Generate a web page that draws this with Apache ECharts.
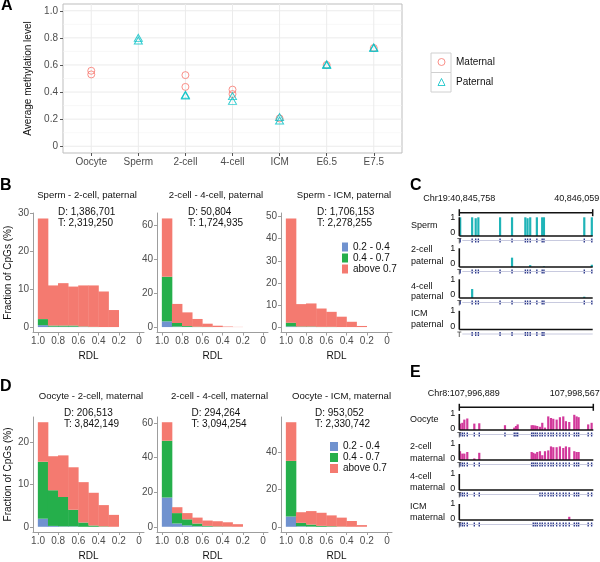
<!DOCTYPE html>
<html><head><meta charset="utf-8">
<script src="https://cdn.jsdelivr.net/npm/echarts@6/dist/echarts.min.js"></script>
<style>html,body{margin:0;padding:0;background:#fff}#c{width:600px;height:562px}</style>
</head><body><div id="c"></div>
<script>
// ================= DATA =================
// Panel A
const stages = ['Oocyte','Sperm','2-cell','4-cell','ICM','E6.5','E7.5'];
const maternalLevels = [[0.557,0.53],[],[0.525,0.438],[0.418,0.385],[0.205],[0.600],[0.725]];
const paternalLevels = [[],[0.80,0.78],[0.38,0.375],[0.37,0.335],[0.215,0.19],[0.600,0.605],[0.73,0.725]];
const methylTicks = [0,0.2,0.4,0.6,0.8,1.0];

// Panels B / D (RDL histograms, 8 bins from 1.0 down to 0.2)
const rdlBinEdges = [1.0,0.9,0.8,0.7,0.6,0.5,0.4,0.3,0.2];
const rdlTicks = [1.0,0.8,0.6,0.4,0.2,0];
const groupNames = ['0.2 - 0.4','0.4 - 0.7','above 0.7'];

const spermTwoCellBlue  = [0.5, 0.1, 0.1, 0.1, 0.05, 0, 0, 0];
const spermTwoCellGreen = [1.6, 0.3, 0.3, 0.3, 0.1, 0.05, 0, 0];
const spermTwoCellAbove = [26.6, 10.6, 11.2, 10.3, 10.85, 10.95, 9.4, 4.5];
const twoFourPatBlue  = [3.4, 0.3, 0.1, 0, 0, 0, 0, 0];
const twoFourPatGreen = [26.4, 2.1, 0.5, 0.2, 0.1, 0, 0, 0];
const twoFourPatAbove = [34.5, 11.3, 8.1, 4.6, 1.9, 0.8, 0.3, 0.1];
const spermIcmBlue  = [0.3, 0.05, 0.05, 0, 0, 0, 0, 0];
const spermIcmGreen = [1.7, 0.2, 0.2, 0.1, 0.1, 0, 0, 0];
const spermIcmAbove = [47.2, 10.15, 10.45, 8.3, 6.8, 4.7, 2.4, 0.5];
const oocyteTwoCellBlue  = [1.9, 0.2, 0.1, 0.1, 0, 0, 0, 0];
const oocyteTwoCellGreen = [13.4, 8.4, 6.9, 3.9, 1.0, 0.3, 0.1, 0];
const oocyteTwoCellAbove = [9.3, 8.0, 9.8, 10.0, 9.5, 7.7, 5.0, 2.8];
const twoFourMatBlue  = [16.9, 1.9, 0.8, 0.3, 0.1, 0, 0, 0];
const twoFourMatGreen = [32.8, 6.0, 3.5, 1.6, 0.4, 0.2, 0.1, 0];
const twoFourMatAbove = [10.7, 3.4, 3.6, 3.4, 3.1, 3.0, 2.5, 1.5];
const oocyteIcmBlue  = [5.5, 0.3, 0.1, 0, 0, 0, 0, 0];
const oocyteIcmGreen = [29.8, 1.8, 1.1, 0.5, 0.3, 0.1, 0, 0];
const oocyteIcmAbove = [20.7, 5.7, 7.2, 7.0, 5.8, 4.8, 3.1, 0.9];

const histTitles = ['Sperm - 2-cell, paternal','2-cell - 4-cell, paternal','Sperm - ICM, paternal',
                    'Oocyte - 2-cell, maternal','2-cell - 4-cell, maternal','Oocyte - ICM, maternal'];
const histDiff  = ['D: 1,386,701','D: 50,804','D: 1,706,153','D: 206,513','D: 294,264','D: 953,052'];
const histTotal = ['T: 2,319,250','T: 1,724,935','T: 2,278,255','T: 3,842,149','T: 3,094,254','T: 2,330,742'];

// Panel C (Chr19 region), CpG offsets in bp from region start
const regionC = ['Chr19', 40845758, 40846059];
const cpgOffsetsC = [2, 29, 37, 43, 92, 119, 149, 154, 160, 175, 187, 191, 282, 299];
const spermC      = [1, 1, 0.95, 1, 1, 1, 1, 0.95, 1, 1, 1, 1, 1, 1];
const twoCellPatC = [0, 0, 0, 0, 0, 0.5, 0, 0, 0.1, 0, 0, 0.04, 0, 0.12];
const fourCellPatC= [0, 0.48, 0, 0, 0, 0, 0, 0, 0, 0, 0, 0, 0.07, 0];
const icmPatC     = [null, 0, 0, 0, 0, 0, 0, 0, 0, 0, 0, 0, null, null];
const trackNamesC = [['Sperm'],['2-cell','paternal'],['4-cell','paternal'],['ICM','paternal']];

// Panel E (Chr8 region)
const regionE = ['Chr8', 107996889, 107998567];
const cpgOffsetsE = [9, 38, 63, 100, 188, 250, 572, 688, 710, 731, 906, 926, 951, 976, 1010, 1039, 1073,
                     1114, 1148, 1177, 1219, 1260, 1302, 1335, 1377, 1440, 1469, 1494, 1614, 1657];
const oocyteE = [0.4, 0.45, 0.65, 0.72, 0.4, 0.42, 0.3, 0.15, 0.25, 0.35, 0.3, 0.3, 0.28, 0.25, 0.2,
                 0.45, 0.15, 0.85, 0.75, 0.7, 0.65, 0.8, 0.85, 0.55, 0.5, 0.95, 0.85, 0.8, 0.35, 0.45];
const twoCellMatE = [0.55, 0.4, 0.4, 0.5, 0.1, 0.45, null, null, null, null, 0.5, 0.45, 0.4, 0.5, 0.55,
                     0.3, 0.55, 0.6, 0.85, 0.8, 0.8, 0.85, 0.75, 0.85, 0.8, 0.55, 0.5, 0.5, 0, 0];
const fourCellMatE = [0, 0, 0, 0, 0, 0, null, null, null, null, null, null, null, null, 0,
                      0, 0, 0, 0, 0, 0, 0, 0, 0, 0, 0, 0, 0, 0, 0];
const icmMatE = [0, 0, 0, 0, 0, 0, null, null, null, null, null, 0, 0, 0, 0,
                 0, 0, 0, 0, 0, 0, 0, 0, 0, 0.2, 0, 0, 0, 0, 0];
const trackNamesE = [['Oocyte'],['2-cell','maternal'],['4-cell','maternal'],['ICM','maternal']];

// ================= STYLE =================
const FONT = '"Liberation Sans", Arial, Helvetica, sans-serif';
const TXT = '#111', TICKC = '#4d4d4d', AXC = '#9d9d9d';
const groupColors = ['#7092CF', '#25AF4B', '#F47A70'];
const matColor = '#F8766D', patColor = '#00BFC4';
const tealC = '#1FB4B8', magentaE = '#D2399B';

const grids = [], xAxes = [], yAxes = [], series = [], graphics = [];
function addGrid(g, xa, ya){
  grids.push(g); const i = grids.length - 1;
  xAxes.push(Object.assign({gridIndex:i}, xa));
  yAxes.push(Object.assign({gridIndex:i}, ya));
  return i;
}
function txt(x, y, s, o){
  o = o || {};
  graphics.push({type:'text', x:x, y:y, rotation:o.rotation||0, z:10, silent:true, style:{text:s, fill:o.color||TXT,
    fontSize:o.size||10, fontFamily:FONT, fontWeight:o.weight||'normal',
    align:o.align||'left', verticalAlign:'middle', textAlign:o.align||'left', textVerticalAlign:'middle'}});
}

// ================= PANEL A =================
addGrid({left:63, top:4, width:339, height:149, show:true, borderColor:'#bdbdbd', borderWidth:1, backgroundColor:'#fff'},
  {type:'value', min:0, max:1, show:false}, {type:'value', min:0, max:1, show:false});
const aPadY = 149*0.05/1.1;
const gA = addGrid({left:63, top:4+aPadY, width:339, height:149-2*aPadY},
  {type:'value', min:0.4, max:7.6, splitLine:{show:false}, axisLine:{show:false, onZero:false}, offset:aPadY,
   axisTick:{show:true, customValues:[1,2,3,4,5,6,7], length:3, lineStyle:{color:'#555'}},
   axisLabel:{customValues:[1,2,3,4,5,6,7], formatter:v=>stages[Math.round(v)-1], fontSize:10, color:TICKC, margin:4, fontFamily:FONT}},
  {type:'value', min:0, max:1, interval:0.2, splitLine:{show:false}, axisLine:{show:false, onZero:false},
   axisTick:{show:true, length:3, lineStyle:{color:'#555'}},
   axisLabel:{formatter:v=>v===0?'0':v.toFixed(1), fontSize:10, color:TICKC, margin:5, fontFamily:FONT, showMaxLabel:true}});
txt(28, 78.5, 'Average methylation level', {align:'center', rotation:Math.PI/2, size:10});

series.push({type:'custom', xAxisIndex:gA, yAxisIndex:gA, silent:true, z:1, data:[[1,0]],
  renderItem:function(p, api){
    const ch = [];
    for (let k=0;k<=10;k++){
      const v = k/10, a = api.coord([0.4,v]), b = api.coord([7.6,v]);
      ch.push({type:'line', shape:{x1:a[0],y1:a[1],x2:b[0],y2:b[1]}, style:{stroke: k%2===0?'#ebebeb':'#f3f3f3', lineWidth:k%2===0?1:0.6}});
    }
    for (let i=1;i<=stages.length;i++){
      const a = api.coord([i,0]), b = api.coord([i,1]);
      ch.push({type:'line', shape:{x1:a[0],y1:a[1]+aPadY,x2:b[0],y2:b[1]-aPadY}, style:{stroke:'#ebebeb', lineWidth:1}});
    }
    return {type:'group', children:ch};
  }});
series.push({name:'Maternal', type:'scatter', xAxisIndex:gA, yAxisIndex:gA, symbol:'circle', symbolSize:7, z:3,
  itemStyle:{color:'rgba(0,0,0,0)', borderColor:matColor, borderWidth:1},
  data: maternalLevels.flatMap((vals,i)=>vals.map(v=>[i+1,v]))});
series.push({name:'Paternal', type:'scatter', xAxisIndex:gA, yAxisIndex:gA, symbol:'triangle', symbolSize:[8,7], z:3,
  itemStyle:{color:'rgba(0,0,0,0)', borderColor:patColor, borderWidth:1},
  data: paternalLevels.flatMap((vals,i)=>vals.map(v=>[i+1,v]))});

graphics.push({type:'rect', shape:{x:431, y:53, width:20, height:19.5}, style:{fill:'#fff', stroke:'#d0d0d0', lineWidth:1}, z:0, silent:true});
graphics.push({type:'rect', shape:{x:431, y:72.5, width:20, height:19.5}, style:{fill:'#fff', stroke:'#d0d0d0', lineWidth:1}, z:0, silent:true});

// ================= PANELS B / D =================
function histRect(params, api){
  const p0 = api.coord([api.value(0), api.value(3)]);
  const p1 = api.coord([api.value(1), api.value(2)]);
  const x = Math.min(p0[0],p1[0]), w = Math.abs(p1[0]-p0[0]);
  const y = Math.min(p0[1],p1[1]), h = Math.abs(p1[1]-p0[1]);
  if (h < 0.05) return null;
  return {type:'rect', shape:{x:x-0.2, y:y, width:w+0.4, height:h}, style:{fill:api.visual('color')}};
}
function addHist(cfg){
  const totals = cfg.layers[0].map((_,i)=>cfg.layers[0][i]+cfg.layers[1][i]+cfg.layers[2][i]);
  const M = Math.max(...totals);
  const gi = addGrid({left:cfg.left, top:cfg.top, width:111, height:cfg.height},
    {type:'value', inverse:true, min:-0.05, max:1.05, splitLine:{show:false},
     axisLine:{show:true, onZero:false, lineStyle:{color:AXC}},
     axisTick:{show:true, customValues:rdlTicks, length:3, lineStyle:{color:AXC}},
     axisLabel:{customValues:rdlTicks, formatter:v=>v===0?'0':v.toFixed(1), fontSize:10, color:TICKC, margin:4, fontFamily:FONT},
     name:'RDL', nameLocation:'middle', nameGap:19, nameTextStyle:{fontSize:10, color:TXT, fontFamily:FONT}},
    {type:'value', min:-0.05*M, max:1.05*M, splitLine:{show:false},
     axisLine:{show:true, onZero:false, lineStyle:{color:AXC}},
     axisTick:{show:true, customValues:cfg.yTicks, length:3, lineStyle:{color:AXC}},
     axisLabel:{customValues:cfg.yTicks, fontSize:10, color:TICKC, margin:4, fontFamily:FONT},
     name:cfg.yName||'', nameLocation:'middle', nameGap:20, nameTextStyle:{fontSize:10, color:TXT, fontFamily:FONT}});
  let base = new Array(8).fill(0);
  cfg.layers.forEach((arr,k)=>{
    const data = arr.map((v,i)=>[rdlBinEdges[i], rdlBinEdges[i+1], base[i], base[i]+v]);
    base = base.map((b,i)=>b+arr[i]);
    series.push({type:'custom', name:groupNames[k], xAxisIndex:gi, yAxisIndex:gi, z:2,
      itemStyle:{color:groupColors[k]}, encode:{x:[0,1], y:[2,3]}, renderItem:histRect, data:data});
  });
  txt(cfg.titleX, cfg.titleY, cfg.title, {align:'center', size:9.6});
  txt(cfg.dtX, cfg.dtY, cfg.d, {size:10});
  txt(cfg.dtX, cfg.dtY+11, cfg.t, {size:10});
}
const bTop = 213, bH = 119.5, dTop = 417, dH = 116.5;
addHist({left:33, top:bTop, height:bH, layers:[spermTwoCellBlue,spermTwoCellGreen,spermTwoCellAbove], yTicks:[0,10,20,30], yName:'Fraction of CpGs (%)',
  title:histTitles[0], titleX:87, titleY:195, d:histDiff[0], t:histTotal[0], dtX:58, dtY:212});
addHist({left:157, top:bTop, height:bH, layers:[twoFourPatBlue,twoFourPatGreen,twoFourPatAbove], yTicks:[0,20,40,60],
  title:histTitles[1], titleX:216, titleY:195, d:histDiff[1], t:histTotal[1], dtX:188, dtY:212});
addHist({left:281, top:bTop, height:bH, layers:[spermIcmBlue,spermIcmGreen,spermIcmAbove], yTicks:[0,10,20,30,40,50],
  title:histTitles[2], titleX:344, titleY:195, d:histDiff[2], t:histTotal[2], dtX:317, dtY:212});
addHist({left:33, top:dTop, height:dH, layers:[oocyteTwoCellBlue,oocyteTwoCellGreen,oocyteTwoCellAbove], yTicks:[0,10,20], yName:'Fraction of CpGs (%)',
  title:histTitles[3], titleX:91, titleY:396, d:histDiff[3], t:histTotal[3], dtX:64, dtY:413});
addHist({left:157, top:dTop, height:dH, layers:[twoFourMatBlue,twoFourMatGreen,twoFourMatAbove], yTicks:[0,20,40,60],
  title:histTitles[4], titleX:219.5, titleY:396, d:histDiff[4], t:histTotal[4], dtX:191.5, dtY:413});
addHist({left:281, top:dTop, height:dH, layers:[oocyteIcmBlue,oocyteIcmGreen,oocyteIcmAbove], yTicks:[0,20,40],
  title:histTitles[5], titleX:341.5, titleY:396, d:histDiff[5], t:histTotal[5], dtX:315, dtY:413});

// ================= PANELS C / E (tracks) =================
function addTrack(cfg){
  const top = cfg.baseline - cfg.unit;
  const height = cfg.unit*(1 - cfg.yMin);
  const gi = addGrid({left:459.3, top:top, width:cfg.width, height:height},
    {type:'value', min:0, max:cfg.xMax, show:false},
    {type:'value', min:cfg.yMin, max:1, splitLine:{show:false}, axisLine:{show:false, onZero:false}, axisTick:{show:false},
     axisLabel:{customValues:[0,1], formatter:v=>v===0?'{z|0}':'{o|1}', margin:4,
       rich:{z:{fontSize:9, color:TXT, fontFamily:FONT, padding:[0,0,cfg.zeroLift,0]}, o:{fontSize:9, color:TXT, fontFamily:FONT}}}});
  const tickY = -cfg.tickPx/cfg.unit;
  const xMax = cfg.xMax, br = cfg.bracket;
  series.push({type:'custom', xAxisIndex:gi, yAxisIndex:gi, silent:true, z:4, data:[[0,0]],
    renderItem:function(p, api){
      const o = api.coord([0,0]), e = api.coord([xMax,0]), t1 = api.coord([0,1]);
      const ty = api.coord([0,tickY])[1];
      const ch = [
        {type:'line', shape:{x1:o[0]+3, y1:ty, x2:e[0], y2:ty}, style:{stroke:'#c8cadf', lineWidth:1}},
        {type:'line', shape:{x1:o[0], y1:t1[1], x2:o[0], y2:o[1]}, style:{stroke:'#111', lineWidth:1.6}},
        {type:'line', shape:{x1:o[0], y1:o[1], x2:e[0], y2:o[1]}, style:{stroke:'#111', lineWidth:1.6}},
        {type:'line', shape:{x1:o[0]-2, y1:o[1]+2.5, x2:o[0]+2, y2:o[1]+2.5}, style:{stroke:'#444', lineWidth:0.8}},
        {type:'line', shape:{x1:o[0], y1:o[1]+2.5, x2:o[0], y2:o[1]+7.5}, style:{stroke:'#444', lineWidth:0.8}}
      ];
      if (br){
        const by = t1[1] - br.gap;
        ch.push({type:'line', shape:{x1:o[0], y1:by, x2:e[0], y2:by}, style:{stroke:'#111', lineWidth:1.5}});
        ch.push({type:'line', shape:{x1:o[0], y1:by-3.5, x2:o[0], y2:by+3.5}, style:{stroke:'#111', lineWidth:1.5}});
        ch.push({type:'line', shape:{x1:e[0], y1:by-3.5, x2:e[0], y2:by+3.5}, style:{stroke:'#111', lineWidth:1.5}});
        ch.push({type:'text', x:o[0]+br.leftDx, y:by-14, style:{text:br.left, fontSize:9, fontFamily:FONT, fill:TXT, align:'center', verticalAlign:'middle'}});
        ch.push({type:'text', x:e[0]+6.5, y:by-14, style:{text:br.right, fontSize:9, fontFamily:FONT, fill:TXT, align:'right', verticalAlign:'middle'}});
      }
      return {type:'group', children:ch};
    }});
  const covered = cfg.positions.filter((_,i)=>cfg.values[i]!==null);
  series.push({type:'custom', xAxisIndex:gi, yAxisIndex:gi, silent:true, z:3, data:covered.map(v=>[v, tickY]),
    renderItem:function(p, api){
      const c = api.coord([api.value(0), api.value(1)]);
      return {type:'rect', shape:{x:c[0]-0.7, y:c[1]-2, width:1.4, height:4}, style:{fill:'#2d3a8c'}};
    }});
  const bars = cfg.positions.map((pos,i)=>[pos, cfg.values[i]]).filter(d=>d[1]!==null && d[1]>0);
  series.push({type:'custom', xAxisIndex:gi, yAxisIndex:gi, silent:true, z:2, data:bars,
    renderItem:function(p, api){
      const b = api.coord([api.value(0),0]), t = api.coord([api.value(0), api.value(1)]);
      return {type:'rect', shape:{x:b[0]-1.1, y:t[1], width:2.2, height:b[1]-t[1]}, style:{fill:cfg.color}};
    }});
}
const fmt = n => n.toLocaleString('en-US');
const cBase = [236, 267, 298, 329.5];
const cVals = [spermC, twoCellPatC, fourCellPatC, icmPatC];
cVals.forEach((vals,i)=>addTrack({baseline:cBase[i], unit:18.7, yMin:-0.35, tickPx:4.5, zeroLift:6, width:133.4,
  xMax:regionC[2]-regionC[1], positions:cpgOffsetsC, values:vals, color:tealC,
  bracket: i===0 ? {gap:4.6, leftDx:0, left:regionC[0]+':'+fmt(regionC[1]), right:fmt(regionC[2])} : null}));
const eBase = [430, 460, 490, 520];
const eVals = [oocyteE, twoCellMatE, fourCellMatE, icmMatE];
eVals.forEach((vals,i)=>addTrack({baseline:eBase[i], unit:16, yMin:-0.4, tickPx:4.5, zeroLift:3, width:134,
  xMax:regionE[2]-regionE[1], positions:cpgOffsetsE, values:vals, color:magentaE,
  bracket: i===0 ? {gap:6.7, leftDx:4.5, left:regionE[0]+':'+fmt(regionE[1]), right:fmt(regionE[2])} : null}));

const cLabelY = [[225.7],[250,261.7],[286.7,297],[314,325]];
trackNamesC.forEach((lines,i)=>lines.forEach((s,j)=>txt(411, cLabelY[i][j], s, {size:9})));
const eLabelY = [[420],[446.7,458.3],[476.7,487.3],[506.7,518]];
trackNamesE.forEach((lines,i)=>lines.forEach((s,j)=>txt(410, eLabelY[i][j], s, {size:9})));

txt(0, 185.5, 'B', {size:16, weight:'bold', color:'#000'});
txt(410, 186, 'C', {size:16, weight:'bold', color:'#000'});
txt(0, 387, 'D', {size:16, weight:'bold', color:'#000'});
txt(410, 372.5, 'E', {size:16, weight:'bold', color:'#000'});

const histLegendData = groupNames.map(n=>({name:n, icon:'rect'}));
const option = {
  animation:false,
  backgroundColor:'#fff',
  title:{text:'A', left:1, top:-2, padding:0, textStyle:{fontSize:16, fontWeight:'bold', color:'#000', fontFamily:FONT}},
  grid:grids, xAxis:xAxes, yAxis:yAxes, series:series, graphic:graphics,
  legend:[
    {left:437.5, top:57, padding:0, orient:'vertical', itemWidth:7, itemHeight:7, itemGap:10, selectedMode:false,
     data:[{name:'Maternal', icon:'circle', itemStyle:{color:'rgba(0,0,0,0)', borderColor:matColor, borderWidth:1}},
           {name:'Paternal', icon:'triangle', itemStyle:{color:'rgba(0,0,0,0)', borderColor:patColor, borderWidth:1}}],
     textStyle:{fontSize:10, color:TXT, fontFamily:FONT, lineHeight:10, padding:[0,0,0,6]}},
    {left:342, top:242, padding:0, orient:'vertical', itemWidth:6, itemHeight:9, itemGap:1, selectedMode:false,
     data:histLegendData, textStyle:{fontSize:10, color:TXT, fontFamily:FONT, lineHeight:9}},
    {left:330, top:441.5, padding:0, orient:'vertical', itemWidth:8, itemHeight:9, itemGap:1, selectedMode:false,
     data:histLegendData, textStyle:{fontSize:10, color:TXT, fontFamily:FONT, lineHeight:9}}
  ]
};
const chart = echarts.init(document.getElementById('c'), null, {renderer:'canvas'});
chart.setOption(option);
</script></body></html>
